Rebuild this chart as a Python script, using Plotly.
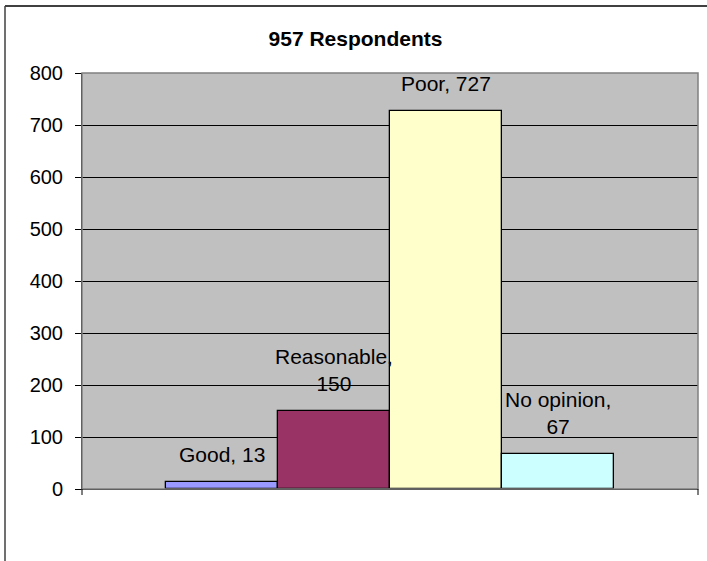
import plotly.graph_objects as go

title_text = "957 Respondents"
categories = ["Good", "Reasonable", "Poor", "No opinion"]
values = [13, 150, 727, 67]
colors = ["#9999FF", "#993366", "#FFFFCC", "#CCFFFF"]
y_ticks = [0, 100, 200, 300, 400, 500, 600, 700, 800]

FONT = "Arial, Liberation Sans, sans-serif"

fig = go.Figure()
fig.add_trace(go.Bar(
    x=categories,
    y=values,
    marker=dict(color=colors, line=dict(color="black", width=1.3)),
    showlegend=False,
    hoverinfo="x+y",
))


def label_for(cat, val):
    text = f"{cat}, {val}"
    if len(text) > 10:
        text = f"{cat},<br>{val}"
    return text


for cat, val in zip(categories, values):
    fig.add_annotation(
        x=cat, y=val, xref="x", yref="y",
        text=label_for(cat, val),
        showarrow=False, yanchor="bottom", yshift=14, align="center",
        font=dict(family=FONT, size=21, color="black"),
    )

L, R, T, B = 82, 9, 73, 72
W, H = 707, 561
pw = W - L - R
ph = H - T - B

# outer chart border (cropped at right and bottom)
bx = (5 - L) / pw
by_top = (H - B - 6) / ph
by_bot = (H - B - H - 5) / ph
bx_right = (W + 5 - L) / pw
fig.add_shape(type="line", xref="paper", yref="paper", x0=bx, x1=bx, y0=by_bot, y1=by_top,
              line=dict(color="#404040", width=1.5))
fig.add_shape(type="line", xref="paper", yref="paper", x0=bx, x1=bx_right, y0=by_top, y1=by_top,
              line=dict(color="#404040", width=2))
# plot area border
fig.add_shape(type="rect", xref="paper", yref="paper", x0=0, x1=1, y0=0, y1=1,
              line=dict(color="#808080", width=1.5), layer="above")
# category axis edge ticks
for xe in (0, 1):
    fig.add_shape(type="line", xref="paper", yref="paper", x0=xe, x1=xe, y0=0, y1=-6 / ph,
                  line=dict(color="black", width=1))

fig.update_layout(
    width=W, height=H,
    margin=dict(l=L, r=R, t=T, b=B, pad=0),
    paper_bgcolor="white",
    plot_bgcolor="#C0C0C0",
    bargap=0,
    title=dict(text=f"<b>{title_text}</b>", x=(355.5 - L) / pw, xref="paper", xanchor="center",
               y=1 - 39 / H, yref="container", yanchor="middle",
               font=dict(family=FONT, size=21, color="black")),
    font=dict(family=FONT, color="black"),
    xaxis=dict(range=[-1.25, 4.25], showticklabels=False, ticks="", showgrid=False,
               showline=True, linecolor="black", linewidth=1, zeroline=False, fixedrange=True),
    yaxis=dict(range=[0, 800], tickmode="array", tickvals=y_ticks, ticks="outside", ticklen=6,
               tickcolor="black", tickwidth=1, showline=True, linecolor="black", linewidth=1,
               showgrid=True, gridcolor="black", gridwidth=1, zeroline=False,
               tickfont=dict(family=FONT, size=20, color="black"), ticklabelstandoff=8),
)

fig.write_html("out.html", config={"displayModeBar": False},
               post_script="document.body.style.margin='0px';document.body.style.overflow='hidden';")
